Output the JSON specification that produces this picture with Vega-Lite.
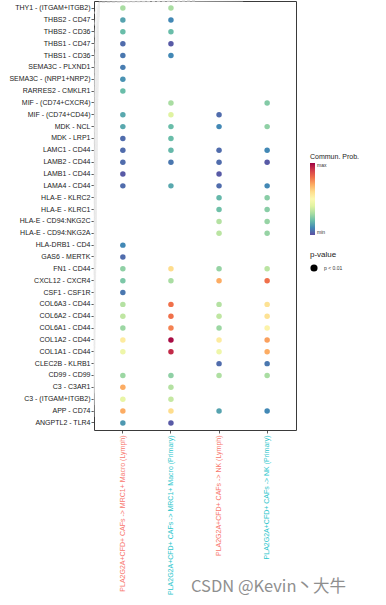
{
  "$schema": "https://vega.github.io/schema/vega-lite/v6.json",
  "autosize": {"type": "none"},
  "padding": {"left": 94, "top": 1, "right": 90, "bottom": 175},
  "width": 202,
  "height": 429,
  "background": "white",
  "title": {"text": "CSDN @Kevin丶大牛", "orient": "bottom", "anchor": "start", "frame": "group", "dx": 97, "offset": -15, "fontSize": 16.5, "font": "Noto Sans CJK SC", "fontWeight": "normal", "color": "#8f8f8f"},
  "datasets": {
    "pairs": [
      {"pair": "THY1 - (ITGAM+ITGB2)"}, {"pair": "THBS2 - CD47"}, {"pair": "THBS2 - CD36"}, {"pair": "THBS1 - CD47"},
      {"pair": "THBS1 - CD36"}, {"pair": "SEMA3C - PLXND1"}, {"pair": "SEMA3C - (NRP1+NRP2)"}, {"pair": "RARRES2 - CMKLR1"},
      {"pair": "MIF - (CD74+CXCR4)"}, {"pair": "MIF - (CD74+CD44)"}, {"pair": "MDK - NCL"}, {"pair": "MDK - LRP1"},
      {"pair": "LAMC1 - CD44"}, {"pair": "LAMB2 - CD44"}, {"pair": "LAMB1 - CD44"}, {"pair": "LAMA4 - CD44"},
      {"pair": "HLA-E - KLRC2"}, {"pair": "HLA-E - KLRC1"}, {"pair": "HLA-E - CD94:NKG2C"}, {"pair": "HLA-E - CD94:NKG2A"},
      {"pair": "HLA-DRB1 - CD4"}, {"pair": "GAS6 - MERTK"}, {"pair": "FN1 - CD44"}, {"pair": "CXCL12 - CXCR4"},
      {"pair": "CSF1 - CSF1R"}, {"pair": "COL6A3 - CD44"}, {"pair": "COL6A2 - CD44"}, {"pair": "COL6A1 - CD44"},
      {"pair": "COL1A2 - CD44"}, {"pair": "COL1A1 - CD44"}, {"pair": "CLEC2B - KLRB1"}, {"pair": "CD99 - CD99"},
      {"pair": "C3 - C3AR1"}, {"pair": "C3 - (ITGAM+ITGB2)"}, {"pair": "APP - CD74"}, {"pair": "ANGPTL2 - TLR4"}
    ],
    "groups": [
      {"group": "PLA2G2A+CFD+ CAFs -> MRC1+ Macro (Primary)", "line": "solid"},
      {"group": "PLA2G2A+CFD+ CAFs -> NK (Lymph)", "line": "dashed"},
      {"group": "PLA2G2A+CFD+ CAFs -> NK (Primary)", "line": "solid"}
    ],
    "dots": [
      {"pair": "THY1 - (ITGAM+ITGB2)", "g": "A", "prob": 0.3},
      {"pair": "THY1 - (ITGAM+ITGB2)", "g": "B", "prob": 0.3},
      {"pair": "THBS2 - CD47", "g": "A", "prob": 0.15},
      {"pair": "THBS2 - CD47", "g": "B", "prob": 0.1},
      {"pair": "THBS2 - CD36", "g": "A", "prob": 0.2},
      {"pair": "THBS2 - CD36", "g": "B", "prob": 0.2},
      {"pair": "THBS1 - CD47", "g": "A", "prob": 0.05},
      {"pair": "THBS1 - CD47", "g": "B", "prob": 0.02},
      {"pair": "THBS1 - CD36", "g": "A", "prob": 0.07},
      {"pair": "THBS1 - CD36", "g": "B", "prob": 0.1},
      {"pair": "SEMA3C - PLXND1", "g": "A", "prob": 0.08},
      {"pair": "SEMA3C - (NRP1+NRP2)", "g": "A", "prob": 0.12},
      {"pair": "RARRES2 - CMKLR1", "g": "A", "prob": 0.2},
      {"pair": "MIF - (CD74+CXCR4)", "g": "B", "prob": 0.3},
      {"pair": "MIF - (CD74+CXCR4)", "g": "D", "prob": 0.24},
      {"pair": "MIF - (CD74+CD44)", "g": "A", "prob": 0.16},
      {"pair": "MIF - (CD74+CD44)", "g": "B", "prob": 0.4},
      {"pair": "MIF - (CD74+CD44)", "g": "C", "prob": 0.05},
      {"pair": "MDK - NCL", "g": "A", "prob": 0.16},
      {"pair": "MDK - NCL", "g": "B", "prob": 0.2},
      {"pair": "MDK - NCL", "g": "C", "prob": 0.1},
      {"pair": "MDK - NCL", "g": "D", "prob": 0.26},
      {"pair": "MDK - LRP1", "g": "A", "prob": 0.05},
      {"pair": "MDK - LRP1", "g": "B", "prob": 0.2},
      {"pair": "LAMC1 - CD44", "g": "A", "prob": 0.05},
      {"pair": "LAMC1 - CD44", "g": "B", "prob": 0.19},
      {"pair": "LAMC1 - CD44", "g": "C", "prob": 0.05},
      {"pair": "LAMC1 - CD44", "g": "D", "prob": 0.1},
      {"pair": "LAMB2 - CD44", "g": "A", "prob": 0.05},
      {"pair": "LAMB2 - CD44", "g": "B", "prob": 0.07},
      {"pair": "LAMB2 - CD44", "g": "C", "prob": 0.05},
      {"pair": "LAMB2 - CD44", "g": "D", "prob": 0.02},
      {"pair": "LAMB1 - CD44", "g": "A", "prob": 0.02},
      {"pair": "LAMB1 - CD44", "g": "C", "prob": 0.02},
      {"pair": "LAMA4 - CD44", "g": "A", "prob": 0.05},
      {"pair": "LAMA4 - CD44", "g": "B", "prob": 0.16},
      {"pair": "LAMA4 - CD44", "g": "C", "prob": 0.05},
      {"pair": "LAMA4 - CD44", "g": "D", "prob": 0.1},
      {"pair": "HLA-E - KLRC2", "g": "C", "prob": 0.19},
      {"pair": "HLA-E - KLRC2", "g": "D", "prob": 0.25},
      {"pair": "HLA-E - KLRC1", "g": "C", "prob": 0.21},
      {"pair": "HLA-E - KLRC1", "g": "D", "prob": 0.25},
      {"pair": "HLA-E - CD94:NKG2C", "g": "C", "prob": 0.32},
      {"pair": "HLA-E - CD94:NKG2C", "g": "D", "prob": 0.27},
      {"pair": "HLA-E - CD94:NKG2A", "g": "C", "prob": 0.33},
      {"pair": "HLA-E - CD94:NKG2A", "g": "D", "prob": 0.27},
      {"pair": "HLA-DRB1 - CD4", "g": "A", "prob": 0.1},
      {"pair": "GAS6 - MERTK", "g": "A", "prob": 0.05},
      {"pair": "FN1 - CD44", "g": "A", "prob": 0.26},
      {"pair": "FN1 - CD44", "g": "B", "prob": 0.6},
      {"pair": "FN1 - CD44", "g": "C", "prob": 0.27},
      {"pair": "FN1 - CD44", "g": "D", "prob": 0.33},
      {"pair": "CXCL12 - CXCR4", "g": "A", "prob": 0.23},
      {"pair": "CXCL12 - CXCR4", "g": "B", "prob": 0.3},
      {"pair": "CXCL12 - CXCR4", "g": "C", "prob": 0.7},
      {"pair": "CXCL12 - CXCR4", "g": "D", "prob": 0.8},
      {"pair": "CSF1 - CSF1R", "g": "A", "prob": 0.07},
      {"pair": "COL6A3 - CD44", "g": "A", "prob": 0.32},
      {"pair": "COL6A3 - CD44", "g": "B", "prob": 0.8},
      {"pair": "COL6A3 - CD44", "g": "C", "prob": 0.32},
      {"pair": "COL6A3 - CD44", "g": "D", "prob": 0.58},
      {"pair": "COL6A2 - CD44", "g": "A", "prob": 0.34},
      {"pair": "COL6A2 - CD44", "g": "B", "prob": 0.8},
      {"pair": "COL6A2 - CD44", "g": "C", "prob": 0.34},
      {"pair": "COL6A2 - CD44", "g": "D", "prob": 0.58},
      {"pair": "COL6A1 - CD44", "g": "A", "prob": 0.28},
      {"pair": "COL6A1 - CD44", "g": "B", "prob": 0.77},
      {"pair": "COL6A1 - CD44", "g": "C", "prob": 0.28},
      {"pair": "COL6A1 - CD44", "g": "D", "prob": 0.52},
      {"pair": "COL1A2 - CD44", "g": "A", "prob": 0.55},
      {"pair": "COL1A2 - CD44", "g": "B", "prob": 0.98},
      {"pair": "COL1A2 - CD44", "g": "C", "prob": 0.55},
      {"pair": "COL1A2 - CD44", "g": "D", "prob": 0.72},
      {"pair": "COL1A1 - CD44", "g": "A", "prob": 0.45},
      {"pair": "COL1A1 - CD44", "g": "B", "prob": 0.93},
      {"pair": "COL1A1 - CD44", "g": "C", "prob": 0.45},
      {"pair": "COL1A1 - CD44", "g": "D", "prob": 0.7},
      {"pair": "CLEC2B - KLRB1", "g": "C", "prob": 0.05},
      {"pair": "CLEC2B - KLRB1", "g": "D", "prob": 0.07},
      {"pair": "CD99 - CD99", "g": "A", "prob": 0.28},
      {"pair": "CD99 - CD99", "g": "B", "prob": 0.26},
      {"pair": "CD99 - CD99", "g": "C", "prob": 0.31},
      {"pair": "CD99 - CD99", "g": "D", "prob": 0.3},
      {"pair": "C3 - C3AR1", "g": "A", "prob": 0.7},
      {"pair": "C3 - C3AR1", "g": "B", "prob": 0.32},
      {"pair": "C3 - (ITGAM+ITGB2)", "g": "A", "prob": 0.43},
      {"pair": "C3 - (ITGAM+ITGB2)", "g": "B", "prob": 0.35},
      {"pair": "APP - CD74", "g": "A", "prob": 0.7},
      {"pair": "APP - CD74", "g": "B", "prob": 0.6},
      {"pair": "APP - CD74", "g": "C", "prob": 0.15},
      {"pair": "APP - CD74", "g": "D", "prob": 0.1},
      {"pair": "ANGPTL2 - TLR4", "g": "A", "prob": 0.13},
      {"pair": "ANGPTL2 - TLR4", "g": "B", "prob": 0.02}
    ],
    "groupnames": [
      {"g": "A", "group": "PLA2G2A+CFD+ CAFs -> MRC1+ Macro (Lymph)"},
      {"g": "B", "group": "PLA2G2A+CFD+ CAFs -> MRC1+ Macro (Primary)"},
      {"g": "C", "group": "PLA2G2A+CFD+ CAFs -> NK (Lymph)"},
      {"g": "D", "group": "PLA2G2A+CFD+ CAFs -> NK (Primary)"}
    ]
  },
  "config": {
    "view": {"stroke": "#3a3a3a", "strokeWidth": 1},
    "font": "Liberation Sans",
    "axis": {"grid": false, "domain": false, "title": null, "tickColor": "#333333", "tickSize": 3, "tickWidth": 0.8, "labelFont": "Liberation Sans", "labelFontSize": 7, "labelLimit": 220}
  },
  "layer": [
    {
      "data": {"name": "pairs"},
      "transform": [{"filter": "datum.pair !== 'THY1 - (ITGAM+ITGB2)'"}],
      "mark": {"type": "rule", "color": "#ececec", "strokeWidth": 0.6},
      "encoding": {
        "y": {"field": "pair", "type": "nominal", "bandPosition": 0}
      }
    },
    {
      "data": {"name": "groups"},
      "mark": {"type": "rule"},
      "encoding": {
        "x": {"field": "group", "type": "nominal", "bandPosition": 0},
        "color": {"condition": {"test": "datum.line === 'dashed'", "value": "#bdbdbd"}, "value": "#ececec"},
        "strokeDash": {"condition": {"test": "datum.line === 'dashed'", "value": [3, 2]}, "value": [1, 0]},
        "strokeWidth": {"condition": {"test": "datum.line === 'dashed'", "value": 0.9}, "value": 0.6}
      }
    },
    {
      "data": {"name": "dots"},
      "transform": [
        {"lookup": "g", "from": {"data": {"name": "groupnames"}, "key": "g", "fields": ["group"]}},
        {"filter": "datum.prob >= 0"}
      ],
      "mark": {"type": "point", "filled": true, "size": 30, "opacity": 1, "strokeWidth": 0},
      "encoding": {
        "x": {"field": "group", "type": "nominal"},
        "y": {"field": "pair", "type": "nominal"},
        "color": {
          "field": "prob", "type": "quantitative", "title": "Commun. Prob.",
          "scale": {"scheme": "spectral", "reverse": true, "domain": [0, 1]},
          "legend": {"orient": "none", "legendX": 216, "legendY": 152, "values": [0, 1], "labelExpr": "datum.value >= 1 ? 'max' : 'min'", "gradientLength": 72, "gradientThickness": 5, "gradientStrokeWidth": 0, "titleFontSize": 7, "titleFontWeight": "normal", "titleColor": "#222222", "titleFont": "Liberation Sans", "titlePadding": 3, "labelFontSize": 5, "labelColor": "#333333", "labelOffset": 2, "tickCount": 2, "direction": "vertical"}
        },
        "shape": {
          "field": "pval", "type": "nominal", "title": "p-value",
          "scale": {"domain": ["p < 0.01"], "range": ["circle"]},
          "legend": {"orient": "none", "legendX": 216, "legendY": 250, "symbolFillColor": "black", "symbolStrokeColor": "black", "symbolSize": 32, "titleFontSize": 8, "titleFontWeight": "normal", "titleColor": "#222222", "titleFont": "Liberation Sans", "titlePadding": 5, "labelFontSize": 5, "labelColor": "#333333", "labelOffset": 6}
        }
      }
    }
  ],
  "encoding": {
    "x": {
      "field": "group", "type": "nominal",
      "scale": {"domain": ["PLA2G2A+CFD+ CAFs -> MRC1+ Macro (Lymph)", "PLA2G2A+CFD+ CAFs -> MRC1+ Macro (Primary)", "PLA2G2A+CFD+ CAFs -> NK (Lymph)", "PLA2G2A+CFD+ CAFs -> NK (Primary)"], "paddingInner": 0, "paddingOuter": 0.1},
      "axis": {"labelAngle": 270, "labelPadding": 2, "labelFontSize": 7, "labelColor": {"condition": {"test": "indexof(datum.value, 'Primary') >= 0", "value": "#2cc6cc"}, "value": "#f8766d"}}
    },
    "y": {
      "field": "pair", "type": "nominal",
      "scale": {"domain": ["THY1 - (ITGAM+ITGB2)", "THBS2 - CD47", "THBS2 - CD36", "THBS1 - CD47", "THBS1 - CD36", "SEMA3C - PLXND1", "SEMA3C - (NRP1+NRP2)", "RARRES2 - CMKLR1", "MIF - (CD74+CXCR4)", "MIF - (CD74+CD44)", "MDK - NCL", "MDK - LRP1", "LAMC1 - CD44", "LAMB2 - CD44", "LAMB1 - CD44", "LAMA4 - CD44", "HLA-E - KLRC2", "HLA-E - KLRC1", "HLA-E - CD94:NKG2C", "HLA-E - CD94:NKG2A", "HLA-DRB1 - CD4", "GAS6 - MERTK", "FN1 - CD44", "CXCL12 - CXCR4", "CSF1 - CSF1R", "COL6A3 - CD44", "COL6A2 - CD44", "COL6A1 - CD44", "COL1A2 - CD44", "COL1A1 - CD44", "CLEC2B - KLRB1", "CD99 - CD99", "C3 - C3AR1", "C3 - (ITGAM+ITGB2)", "APP - CD74", "ANGPTL2 - TLR4"], "paddingInner": 0, "paddingOuter": 0.1},
      "axis": {"labelColor": "#222222", "labelPadding": 1}
    }
  },
  "resolve": {"scale": {"x": "shared", "y": "shared"}}
}
